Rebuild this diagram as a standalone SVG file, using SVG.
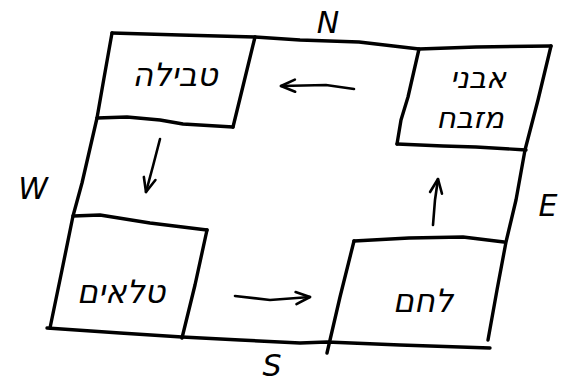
<svg xmlns="http://www.w3.org/2000/svg" width="576" height="383" viewBox="0 0 576 383">
  <defs>
    <marker id="head" viewBox="0 0 18 16" refX="16" refY="8" markerWidth="18" markerHeight="16" markerUnits="userSpaceOnUse" orient="auto">
      <path d="M2,2 L16,8 L2,14" fill="none" stroke="#000" stroke-width="2.6" stroke-linecap="round" stroke-linejoin="round"/>
    </marker>
  </defs>
  <style>
    .ink { fill: none; stroke: #000; stroke-width: 3.4; stroke-linecap: round; stroke-linejoin: round; }
    .arrow { fill: none; stroke: #000; stroke-width: 2.6; stroke-linecap: round; marker-end: url(#head); }
    .heb { font-family: "DejaVu Sans", "Liberation Sans", sans-serif; font-size: 32px; fill: #000; text-anchor: middle; font-style: italic; }
    .heb2 { font-family: "DejaVu Sans", "Liberation Sans", sans-serif; font-size: 30px; fill: #000; text-anchor: middle; font-style: italic; }
    .dir { font-family: "DejaVu Sans", "Liberation Sans", sans-serif; font-size: 30px; fill: #000; text-anchor: middle; font-style: italic; }
  </style>
  <rect width="576" height="383" fill="#fff"/>

  <g id="frame">
    <path class="ink" d="M112,33 L180,35 L255,37 L300,40 L359,42 L419,49 L476,47 L551,46"/>
    <path class="ink" d="M551,46 L538,100 L525,150 L516,200 L506,242 L497,290 L488,340"/>
    <path class="ink" d="M47,328 L120,333 L182,337 L240,340 L300,343 L327,342 L400,345 L490,348"/>
    <path class="ink" d="M112,33 L104,78 L97,118 L82,183 L73,216 L62,270 L50,328"/>
  </g>

  <g id="node-tevila">
    <path class="ink" d="M255,37 L244,82 L233,127"/>
    <path class="ink" d="M97,118 L127,117 L160,120 L183,124 L233,127"/>
    <text class="heb" x="175" y="86">טבילה</text>
  </g>

  <g id="node-avnei-mizbeach">
    <path class="ink" d="M419,49 L408,97 L401,120 L397,144"/>
    <path class="ink" d="M397,144 L443,146 L476,147 L526,150"/>
    <text class="heb2" x="478" y="88">אבני</text>
    <text class="heb2" x="470" y="128">מזבח</text>
  </g>

  <g id="node-tlaim">
    <path class="ink" d="M73,216 L100,215 L150,223 L207,230"/>
    <path class="ink" d="M207,230 L195,285 L182,338"/>
    <text class="heb" x="121" y="303">טלאים</text>
  </g>

  <g id="node-lechem">
    <path class="ink" d="M354,241 L409,238 L463,237 L504,242"/>
    <path class="ink" d="M354,241 L340,297 L327,353"/>
    <text class="heb" x="423" y="312">לחם</text>
  </g>

  <g id="connectors">
    <path class="arrow" d="M354,89 L326,85 L281,86"/>
    <path class="arrow" d="M160,139 L153,166 L146,192"/>
    <path class="arrow" d="M235,296 L270,300 L310,297"/>
    <path class="arrow" d="M433,225 L435,200 L438,179"/>
  </g>

  <g id="compass">
    <text class="dir" x="328" y="33">N</text>
    <text class="dir" x="33" y="199">W</text>
    <text class="dir" x="548" y="216">E</text>
    <text class="dir" x="272" y="376" font-size="28">S</text>
  </g>
</svg>
